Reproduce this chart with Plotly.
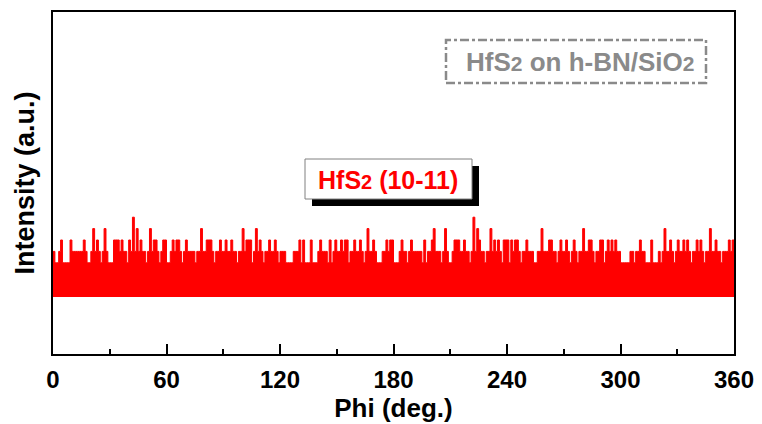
import plotly.graph_objects as go

# Phi angle in degrees (1-degree steps) and intensity levels
phi = list(range(0, 361))
intensity = [
    4,3,3,4,5,3,3,3,3,5,4,4,4,4,4,4,5,4,3,3,
    4,6,4,5,4,3,4,6,4,3,3,3,5,5,5,4,5,4,4,3,
    5,4,7,4,6,4,5,4,4,3,4,6,4,5,5,4,3,4,5,5,
    3,3,4,5,4,5,5,4,3,4,5,4,4,4,4,3,4,4,6,4,
    4,5,5,5,4,3,4,4,5,4,4,5,4,4,5,4,4,3,4,4,
    6,4,5,5,5,3,4,6,4,5,4,3,4,4,5,4,4,5,4,3,
    4,4,4,3,3,3,3,4,4,4,5,3,5,3,3,3,5,3,3,3,
    4,5,4,4,4,3,5,3,4,5,4,4,5,4,5,5,3,4,4,5,
    4,4,5,4,3,4,6,4,4,5,4,3,3,3,4,4,5,4,5,5,
    3,3,3,4,5,4,4,3,4,5,4,4,4,4,4,3,5,3,4,4,
    5,6,4,4,4,3,4,6,4,3,3,4,5,5,5,4,4,5,4,4,
    3,4,7,4,6,5,4,4,3,4,4,6,4,5,4,5,4,3,5,5,
    5,3,5,4,5,5,4,3,4,4,5,4,4,4,3,3,4,4,6,4,
    4,4,5,5,4,4,3,4,5,4,4,5,4,3,4,5,4,3,4,4,
    6,4,4,5,5,4,3,4,4,5,5,3,4,5,4,5,4,5,4,4,
    3,3,3,3,3,4,4,3,4,4,5,4,4,3,3,3,5,3,3,3,
    4,3,4,6,4,4,5,4,3,4,5,4,4,5,4,5,4,3,4,4,
    5,4,5,4,3,4,4,6,4,4,5,4,4,3,4,4,4,5,4,5,
    4,
]
x_ticks = [0, 60, 120, 180, 240, 300, 360]

FONT = "Arial, Liberation Sans, sans-serif"

fig = go.Figure()
fig.add_trace(go.Scatter(
    x=phi, y=intensity, mode="lines",
    line=dict(color="#FF0000", width=1, shape="hv"),
    fill="tozeroy", fillcolor="#FF0000",
    showlegend=False, hoverinfo="skip",
))

# the page body has an 8px margin, so the figure is drawn 8px in from the corner
OFF = 8
W, H = 762 - OFF, 424 - OFF
L, R, T, B = 53 - OFF, 734 - OFF, 12 - OFF, 354 - OFF

def px(x):  # screen pixel -> paper
    return (x - OFF - L) / (R - L)
def py(y):
    return (B - (y - OFF)) / (B - T)

shapes = [
    # shadow box
    dict(type="rect", xref="paper", yref="paper",
         x0=px(312), x1=px(479), y0=py(206), y1=py(166),
         fillcolor="black", line=dict(width=0), layer="above"),
    # white label box
    dict(type="rect", xref="paper", yref="paper",
         x0=px(305), x1=px(472), y0=py(199), y1=py(159),
         fillcolor="white", line=dict(color="#808080", width=1), layer="above"),
    # dash-dot sample box
    dict(type="rect", xref="paper", yref="paper",
         x0=px(446), x1=px(706), y0=py(83), y1=py(40),
         fillcolor="rgba(0,0,0,0)", line=dict(color="#8a8a8a", width=2.5, dash="dashdot"),
         layer="above"),
]

annotations = [
    dict(xref="paper", yref="paper", x=px(388), y=py(180),
         text="<b>HfS<span style='font-size:20px'>2</span> (10-11)</b>",
         showarrow=False, font=dict(family=FONT, size=25, color="#FF0000"),
         xanchor="center", yanchor="middle"),
    dict(xref="paper", yref="paper", x=px(580), y=py(62),
         text="<b>HfS<span style='font-size:21px'>2</span> on h-BN/SiO<span style='font-size:21px'>2</span></b>",
         showarrow=False, font=dict(family=FONT, size=26, color="#8a8a8a"),
         xanchor="center", yanchor="middle"),
]

fig.update_layout(
    width=W, height=H,
    margin=dict(l=L, r=W - R, t=T, b=H - B, autoexpand=False),
    paper_bgcolor="white", plot_bgcolor="white",
    shapes=shapes, annotations=annotations,
    xaxis=dict(
        range=[0, 360], tickvals=x_ticks, ticktext=[str(v) for v in x_ticks],
        ticks="inside", ticklen=10, tickwidth=1.5, tickcolor="black",
        minor=dict(dtick=30, tick0=0, ticks="inside", ticklen=5, tickwidth=1.5, tickcolor="black"),
        showline=True, linecolor="black", linewidth=1.5, mirror=True,
        showgrid=False, zeroline=False, automargin=False,
        tickfont=dict(family=FONT, size=24, color="black", weight="bold"),
        ticklabelstandoff=3,
        title=dict(text="<b>Phi (deg.)</b>", font=dict(family=FONT, size=26, color="black"), standoff=1),
    ),
    yaxis=dict(
        range=[-5, 25], showticklabels=False, ticks="",
        showline=True, linecolor="black", linewidth=1.5, mirror=True,
        showgrid=False, zeroline=False, automargin=False,
        title=dict(text="<b>Intensity (a.u.)</b>", font=dict(family=FONT, size=27, color="black"), standoff=9),
    ),
)

fig.write_html("out.html")
